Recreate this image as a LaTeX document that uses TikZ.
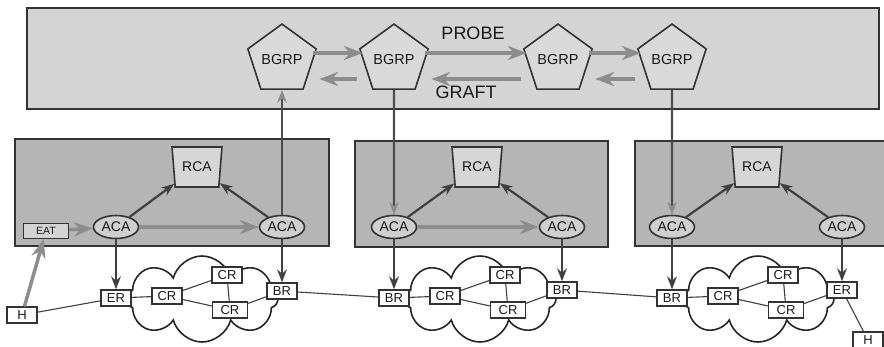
\documentclass[tikz,border=0pt]{standalone}
\usepackage{fontspec}
\setmainfont{Liberation Sans}
\usetikzlibrary{arrows.meta,shapes.geometric,shapes.symbols}

\begin{document}
\begin{tikzpicture}[x=1pt, y=-1pt, >=Stealth,
  every node/.style={font=\fontsize{13}{13}\selectfont, text=black!90},
  bgrp/.style={regular polygon, regular polygon sides=5, draw=black!80,
    fill=gray!30, line width=1.6pt, minimum size=68pt, inner sep=0pt,
    font=\fontsize{14.5}{14.5}\selectfont},
  rca/.style={trapezium, shape border rotate=180, trapezium angle=79,
    trapezium stretches=true, draw=black!80, fill=gray!32, line width=1.6pt,
    minimum width=50pt, minimum height=40pt, inner sep=1pt,
    font=\fontsize{14}{14}\selectfont},
  aca/.style={ellipse, draw=black!80, fill=gray!38, line width=1.6pt,
    minimum width=45pt, minimum height=23pt, inner sep=0pt,
    font=\fontsize{14}{14}\selectfont},
  rtr/.style={rectangle, draw=black!80, fill=white, line width=1.3pt,
    minimum width=30pt, minimum height=16pt, inner sep=1pt},
  cloudy/.style={cloud, cloud puffs=8, aspect=1.8, draw=black!85,
    fill=white, line width=1.6pt, minimum width=152pt, minimum height=86pt},
  planebox/.style={draw=black!80, line width=2pt},
  lbl/.style={font=\fontsize{18}{18}\selectfont},
  garrow/.style={->, gray!90, line width=3.5pt},
  darrow/.style={->, black!75, line width=2.2pt},
  varrow/.style={-{Stealth[color=gray!90]}, black!70, line width=2.2pt},
  wire/.style={black!75, line width=1.1pt}]
  \useasboundingbox (0,0) rectangle (884,346);
  \clip (0,0) rectangle (884,346);
  % planes
  \draw[planebox, fill=gray!34] (27,8) rectangle (879,109);
  \draw[planebox, fill=gray!58] (15,139) rectangle (329,246);
  \draw[planebox, fill=gray!58] (355,141) rectangle (608,247);
  \draw[planebox, fill=gray!58] (635,141) rectangle (890,246);
  % BGRP plane
  \node[bgrp] (b1) at (282,60) {BGRP};
  \node[bgrp] (b2) at (394,60) {BGRP};
  \node[bgrp] (b3) at (558,60) {BGRP};
  \node[bgrp] (b4) at (672,60) {BGRP};
  \node[lbl] (probe) at (473,33) {PROBE};
  \node[lbl] (graft) at (466,92) {GRAFT};
  \foreach \a/\b in {b1/b2, b2/b3, b3/b4}
    \draw[garrow] ([yshift=7pt]\a.east) -- ([yshift=7pt]\b.west);
  \foreach \a/\b in {b4/b3, b3/b2, b2/b1}
    \draw[garrow, shorten <=6pt, shorten >=6pt]
      ([yshift=-19pt]\a.west) -- ([yshift=-19pt]\b.east);
  % clouds and core routers
  \foreach \d/\x in {1/167, 2/445, 3/723} {
    \node[cloudy] (net\d) at (\x+35,299) {};
    \node[rtr] (cr\d1) at (\x,296) {CR};
    \node[rtr] (cr\d2) at (\x+60,275) {CR};
    \node[rtr, minimum width=35pt] (cr\d3) at (\x+63,310) {CR};
    \draw[wire] (cr\d1) -- (cr\d2);
    \draw[wire] (cr\d1) -- (cr\d3);
    \draw[wire] (cr\d2) -- (cr\d3);
    \node[rca] (rca\d) at (\x+30+\d*2-2,167) {RCA};
  }
  % edge and border routers
  \node[rtr] (h1) at (22,315) {H};
  \node[rtr] (er1) at (116,298) {ER};
  \node[rtr] (br1) at (282,291) {BR};
  \node[rtr] (br2) at (394,298) {BR};
  \node[rtr] (br3) at (562,290) {BR};
  \node[rtr] (br4) at (672,298) {BR};
  \node[rtr] (er2) at (842,290) {ER};
  \node[rtr] (h2) at (868,340) {H};
  \draw[wire] (h1) -- (er1);
  \draw[wire] (er1) -- (cr11);
  \draw[wire] (cr13) -- (br1);
  \draw[wire] (br1) -- (br2);
  \draw[wire] (br2) -- (cr21);
  \draw[wire] (cr23) -- (br3);
  \draw[wire] (br3) -- (br4);
  \draw[wire] (br4) -- (cr31);
  \draw[wire] (cr33) -- (er2);
  \draw[wire] (er2) -- (h2);
  % ACAs
  \node[rtr, fill=gray!34, minimum width=45pt, minimum height=15pt,
    font=\fontsize{10.5}{10.5}\selectfont] (eat) at (46,231) {EAT};
  \node[aca] (aca11) at (116,227) {ACA};
  \node[aca] (aca12) at (282,227) {ACA};
  \node[aca] (aca21) at (394,227) {ACA};
  \node[aca] (aca22) at (562,227) {ACA};
  \node[aca] (aca31) at (672,227) {ACA};
  \node[aca] (aca32) at (842,227) {ACA};
  \draw[garrow] (h1) -- (eat);
  \draw[garrow] (eat) -- (aca11);
  \draw[garrow] (aca11) -- (aca12);
  \draw[garrow] (aca21) -- (aca22);
  \foreach \d in {1,2,3} {
    \draw[darrow] (aca\d1) -- (rca\d);
    \draw[darrow] (aca\d2) -- (rca\d);
  }
  \draw[darrow] (aca11) -- (er1);
  \draw[darrow] (aca12) -- (br1);
  \draw[darrow] (aca21) -- (br2);
  \draw[darrow] (aca22) -- (br3);
  \draw[darrow] (aca31) -- (br4);
  \draw[darrow] (aca32) -- (er2);
  % links to the BGRP plane
  \draw[varrow] (aca12) -- (b1);
  \draw[varrow] (b2) -- (aca21);
  \draw[varrow] (b4) -- (aca31);
\end{tikzpicture}
\end{document}
